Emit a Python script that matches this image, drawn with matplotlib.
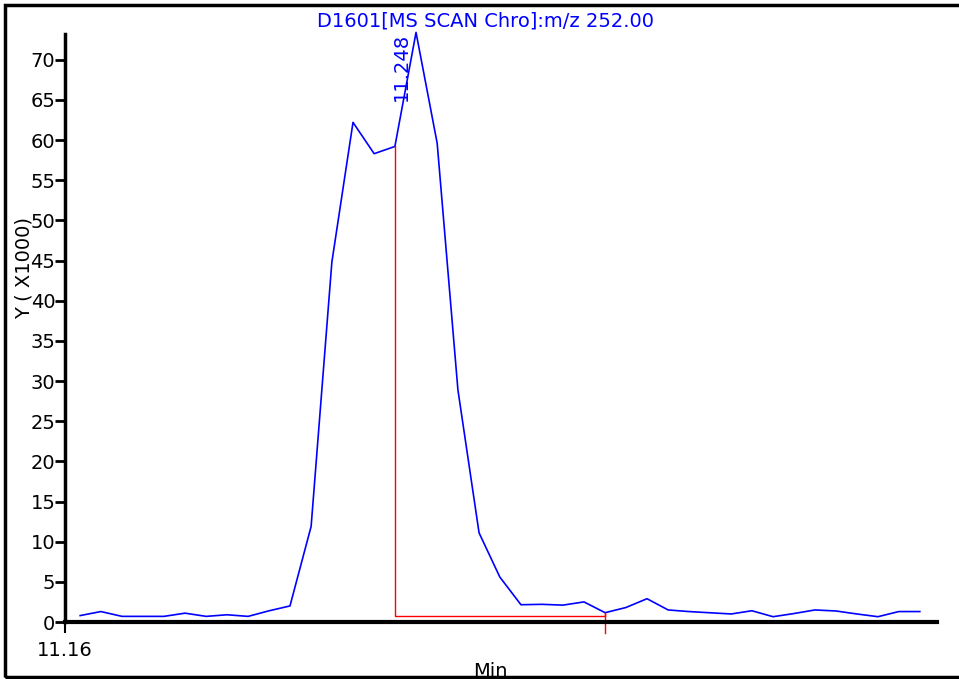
import numpy as np
import matplotlib.pyplot as plt
from matplotlib.patches import Rectangle

# retention time (min) of each scan
times = [11.1638, 11.1690, 11.1743, 11.1796, 11.1848, 11.1901, 11.1954, 11.2006,
         11.2059, 11.2112, 11.2164, 11.2217, 11.2269, 11.2322, 11.2375, 11.2427,
         11.2480, 11.2533, 11.2585, 11.2638, 11.2690, 11.2743, 11.2796, 11.2848,
         11.2901, 11.2954, 11.3006, 11.3059, 11.3112, 11.3164, 11.3217, 11.3270,
         11.3322, 11.3375, 11.3427, 11.3480, 11.3533, 11.3585, 11.3638, 11.3690,
         11.3743]
# intensity (x1000)
intensity = [0.8, 1.3, 0.7, 0.7, 0.7, 1.1, 0.7, 0.9, 0.7, 1.4, 2.0, 11.9, 44.8,
             62.2, 58.3, 59.2, 73.4, 59.6, 28.9, 11.1, 5.6, 2.15, 2.2, 2.1, 2.5,
             1.16, 1.8, 2.9, 1.5, 1.3, 1.15, 1.0, 1.4, 0.66, 1.05, 1.5, 1.37,
             1.0, 0.66, 1.3, 1.3]

peak_rt = 11.248
peak_start = 11.2427
peak_end = 11.2954
baseline = 0.7
title = 'D1601[MS SCAN Chro]:m/z 252.00'

fig = plt.figure(figsize=(9.59, 6.79), dpi=100)
ax = fig.add_axes([65/959, 1-622/679, 872/959, 588/679])

ax.plot(times, intensity, color='#0000ff', lw=1.2, clip_on=False)

# integration baseline / peak bounds
i0 = times.index(peak_start)
i1 = times.index(peak_end)
ax.plot([peak_start, peak_start, peak_end, peak_end],
        [intensity[i0], baseline, baseline, intensity[i1]], color='#ff0000', lw=1)
ax.plot([peak_end, peak_end], [intensity[i1], -1.4], color='#ff0000', lw=1, clip_on=False)

ax.annotate(f'{peak_rt:.3f}', xy=(peak_rt, max(intensity)), xytext=(-4, 0),
            textcoords='offset points', rotation=90, ha='right', va='top',
            color='#0000ff', fontsize=14, annotation_clip=False)

ax.set_xlim(11.16, 11.3786)
ax.set_ylim(0, 73.2)
ax.set_yticks(np.arange(0, 75, 5))
ax.set_xticks([11.16])
ax.set_xticklabels(['11.16'])

for s in ['top', 'right']:
    ax.spines[s].set_visible(False)
ax.spines['left'].set_linewidth(2.5)
ax.spines['bottom'].set_linewidth(3)
ax.tick_params(axis='y', direction='out', length=7, width=2, pad=0, labelsize=14)
ax.tick_params(axis='x', direction='out', length=8, width=1.5, pad=6, labelsize=14)

fig.text(485/959, 1-21/679, title, color='#0000ff', fontsize=14, ha='center', va='center')
fig.text(24/959, 1-268/679, 'Y ( X1000)', rotation=90, fontsize=14, ha='center', va='center')
fig.text(490/959, 1-662/679, 'Min', fontsize=14, ha='center', va='top')

# outer frame
fig.patches.append(Rectangle((5/959, 2/679), 1.2, 1-7/679, transform=fig.transFigure,
                             fill=False, edgecolor='k', lw=2.5))

plt.savefig('out.png', dpi=100)
